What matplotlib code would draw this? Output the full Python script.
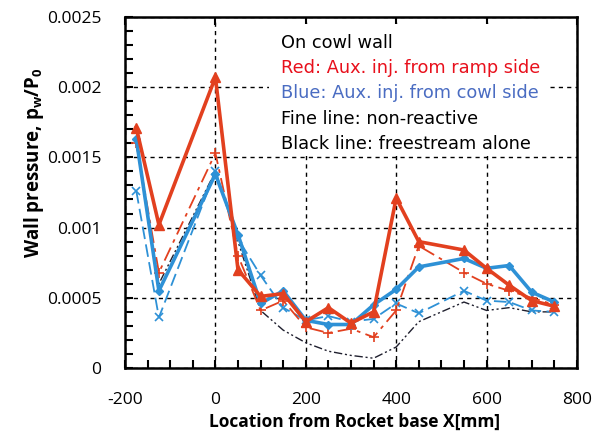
import numpy as np
import matplotlib.pyplot as plt
from matplotlib.ticker import MultipleLocator

# wall pressure along the cowl wall
x = [-175, -125, 0, 50, 100, 150, 200, 250, 300, 350, 400, 450, 550, 600, 650, 700, 750]

red_reactive = [0.00171, 0.00102, 0.00207, 0.00070, 0.00051, 0.00053, 0.00033, 0.00043, 0.00032,
                0.00040, 0.00121, 0.00090, 0.00084, 0.00071, 0.00059, 0.00048, 0.00044]
blue_reactive = [0.00163, 0.00055, 0.00138, 0.00095, 0.00046, 0.00055, 0.00034, 0.00031, 0.00031,
                 0.00045, 0.00056, 0.00072, 0.00078, 0.00071, 0.00073, 0.00054, 0.00047]
red_nonreactive = [0.00160, 0.00068, 0.00153, 0.00080, 0.00041, 0.00048, 0.00029, 0.00025, 0.00028,
                   0.00022, 0.00041, 0.00087, 0.00068, 0.00060, 0.00055, 0.00050, 0.00045]
blue_nonreactive = [0.00126, 0.00036, 0.00140, 0.00092, 0.00066, 0.00043, 0.00034, 0.00037, 0.00033,
                    0.00035, 0.00046, 0.00039, 0.00055, 0.00048, 0.00047, 0.00041, 0.00040]
freestream = [0.00160, 0.00060, 0.00140, 0.00090, 0.00041, 0.00027, 0.00018, 0.00012, 0.00009,
              0.00007, 0.00015, 0.00033, 0.00047, 0.00041, 0.00043, 0.00040, 0.00040]

yticks = [0, 0.0005, 0.001, 0.0015, 0.002, 0.0025]
ytick_labels = ['0', '0.0005', '0.001', '0.0015', '0.002', '0.0025']

RED = '#e2401f'
BLUE = '#2e91d6'
DARK = '#1f1f2e'

plt.rcParams['font.family'] = ['Open Sans', 'DejaVu Sans']
plt.rcParams['axes.unicode_minus'] = False
plt.rcParams['mathtext.fontset'] = 'custom'
plt.rcParams['mathtext.bf'] = 'Open Sans:bold'

fig = plt.figure(figsize=(6.01, 4.32), dpi=100)
ax = fig.add_axes([0.208, 0.148, 0.752, 0.813])

ax.plot(x, freestream, color=DARK, lw=1.0, dashes=(6, 2, 1.5, 2, 1.5, 2), zorder=3)
ax.plot(x, blue_nonreactive, color=BLUE, lw=1.3, dashes=(7, 3), marker='x', ms=6, mew=1.2, zorder=4)
ax.plot(x, red_nonreactive, color=RED, lw=1.3, dashes=(8, 3, 2, 3), marker='+', ms=7, mew=1.2, zorder=4)
ax.plot(x, blue_reactive, color=BLUE, lw=2.6, marker='D', ms=4.5, zorder=5)
ax.plot(x, red_reactive, color=RED, lw=2.6, marker='^', ms=6.5, zorder=6)

ax.set_xlim(-200, 800)
ax.set_ylim(0, 0.0025)
ax.xaxis.set_major_locator(MultipleLocator(200))
ax.xaxis.set_minor_locator(MultipleLocator(50))
ax.yaxis.set_minor_locator(MultipleLocator(0.0001))
ax.set_yticks(yticks)
ax.set_yticklabels(ytick_labels)

ax.tick_params(which='both', direction='in', top=False, right=False, labelsize=12.5)
ax.tick_params(axis='y', pad=17)
ax.tick_params(axis='x', pad=17)
ax.tick_params(which='both', length=6, width=1.5)
ax.tick_params(axis='x', which='major', top=True)
for s in ax.spines.values():
    s.set_linewidth(1.8)

ax.grid(True, which='major', color='black', lw=1.0, dashes=(3, 3))
ax.set_axisbelow(True)

ax.set_xlabel('Location from Rocket base X[mm]', fontsize=12.5, fontweight='bold', va='center')
ax.xaxis.set_label_coords(0.508, -0.154)
ax.set_ylabel(r'Wall pressure, p$_{\mathbf{w}}$/P$_{\mathbf{0}}$', fontsize=13.5,
              fontweight='bold', va='center')
ax.yaxis.set_label_coords(-0.201, 0.585)

# annotation block with white background over the grid
ax.add_patch(plt.Rectangle((0.318, 0.61), 0.62, 0.37, transform=ax.transAxes,
                           facecolor='white', edgecolor='none', zorder=2))
notes = [('On cowl wall', 'black'),
         ('Red: Aux. inj. from ramp side', '#e8101c'),
         ('Blue: Aux. inj. from cowl side', '#4a6cc2'),
         ('Fine line: non-reactive', 'black'),
         ('Black line: freestream alone', 'black')]
for i, (txt, col) in enumerate(notes):
    ax.text(0.346, 0.925 - i * 0.0715, txt, transform=ax.transAxes, color=col,
            fontsize=12.8, family='DejaVu Sans', va='center', zorder=7)

fig.savefig('out.png', dpi=100)
